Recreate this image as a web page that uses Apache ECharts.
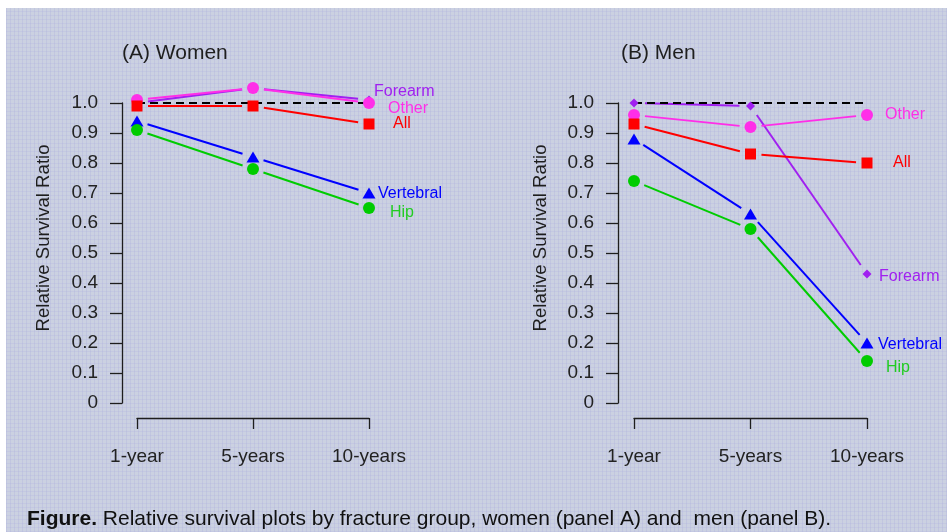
<!DOCTYPE html>
<html>
<head>
<meta charset="utf-8">
<script src="https://cdn.jsdelivr.net/npm/echarts@6/dist/echarts.min.js"></script>
<style>
  html, body { margin: 0; padding: 0; background: #ffffff; }
  #wrap { position: relative; width: 947px; height: 532px; overflow: hidden; }
  #paper {
    position: absolute; left: 6px; top: 8px; right: 0; bottom: 0;
    background-color: #cbd1e1;
    background-image:
      repeating-linear-gradient(90deg, rgba(165,165,220,0.25) 0px, rgba(165,165,220,0.25) 1px, transparent 1px, transparent 4px),
      repeating-linear-gradient(0deg, rgba(170,170,225,0.22) 0px, rgba(170,170,225,0.22) 1px, transparent 1px, transparent 4px);
  }
  #chart { position: absolute; left: 0; top: 0; width: 947px; height: 532px; }
</style>
</head>
<body>
<div id="wrap">
  <div id="paper"></div>
  <div id="chart"></div>
</div>
<script>
// Follow-up periods after fracture
const periods = ['1-year', '5-years', '10-years'];
const yTickLabels = ['0', '0.1', '0.2', '0.3', '0.4', '0.5', '0.6', '0.7', '0.8', '0.9', '1.0'];

// Relative survival ratio, women
const womenForearm   = [1.00, 1.05, 1.01];
const womenOther     = [1.01, 1.05, 1.00];
const womenAll       = [0.99, 0.99, 0.93];
const womenVertebral = [0.94, 0.82, 0.70];
const womenHip       = [0.91, 0.78, 0.65];

// Relative survival ratio, men
const menForearm   = [1.00, 0.99, 0.43];
const menOther     = [0.96, 0.92, 0.96];
const menAll       = [0.93, 0.83, 0.80];
const menVertebral = [0.88, 0.63, 0.20];
const menHip       = [0.74, 0.58, 0.14];

// Expected survival (ratio of 1)
const reference = [1, 1, 1];

const FONT = '"Liberation Sans", Arial, sans-serif';
const INK = '#1e1e1e';

const styles = {
  Forearm:   { color: '#a020f0', text: '#a020f0', symbol: 'diamond',  size: 9 },
  Other:     { color: '#ff2ee8', text: '#ff2ee8', symbol: 'circle',   size: 12 },
  All:       { color: '#ff0000', text: '#ff0000', symbol: 'rect',     size: 11 },
  Vertebral: { color: '#0000ff', text: '#0000ff', symbol: 'triangle', size: [13, 11] },
  Hip:       { color: '#00cc00', text: '#22cc22', symbol: 'circle',   size: 12 }
};

// Line segments between points, stopping short of each marker
function connector(name, vals, gridIndex, color) {
  const gap = 11;
  return {
    type: 'custom',
    name: name,
    xAxisIndex: gridIndex,
    yAxisIndex: gridIndex,
    z: 2,
    silent: true,
    clip: false,
    data: vals.map((v, i) => [i, v]),
    renderItem: function (params, api) {
      const i = params.dataIndex;
      if (i >= vals.length - 1) return null;
      const a = api.coord([i, vals[i]]);
      const b = api.coord([i + 1, vals[i + 1]]);
      const dx = b[0] - a[0], dy = b[1] - a[1];
      const len = Math.hypot(dx, dy);
      if (len <= 2 * gap) return null;
      const ux = dx / len, uy = dy / len;
      return {
        type: 'line',
        shape: { x1: a[0] + ux * gap, y1: a[1] + uy * gap, x2: b[0] - ux * gap, y2: b[1] - uy * gap },
        style: { stroke: color, lineWidth: 2 }
      };
    }
  };
}

// Markers, with the group name written beside the last one
function markers(name, vals, gridIndex, labelOffset, z) {
  const s = styles[name];
  const last = vals.length - 1;
  return {
    type: 'scatter',
    name: name,
    xAxisIndex: gridIndex,
    yAxisIndex: gridIndex,
    z: z,
    clip: false,
    symbol: s.symbol,
    symbolSize: s.size,
    itemStyle: { color: s.color, opacity: 1 },
    data: vals.map((v, i) => i === last ? {
      value: v,
      label: {
        show: true, position: 'inside', align: 'left', verticalAlign: 'middle',
        offset: labelOffset, formatter: '{a}', color: s.text,
        fontFamily: FONT, fontSize: 16
      }
    } : v)
  };
}

function referenceLine(gridIndex) {
  return {
    type: 'line',
    xAxisIndex: gridIndex,
    yAxisIndex: gridIndex,
    data: reference,
    symbol: 'none',
    clip: false,
    silent: true,
    z: 3,
    lineStyle: { color: '#000000', width: 2, type: [8, 5] }
  };
}

function xAxis(gridIndex) {
  return {
    type: 'category', gridIndex: gridIndex, data: periods, boundaryGap: false,
    offset: 15,
    axisLine: { onZero: false, lineStyle: { color: INK, width: 1.3 } },
    axisTick: { length: 11, lineStyle: { color: INK, width: 1.3 } },
    axisLabel: { color: '#222', fontFamily: FONT, fontSize: 19, margin: 29 },
    splitLine: { show: false }
  };
}

function yAxis(gridIndex, offset) {
  return {
    type: 'value', gridIndex: gridIndex, min: 0, max: 1, interval: 0.1,
    offset: offset,
    axisLine: { show: true, onZero: false, lineStyle: { color: INK, width: 1.3 } },
    axisTick: { show: true, length: 12, lineStyle: { color: INK, width: 1.3 } },
    axisLabel: {
      color: '#222', fontFamily: FONT, fontSize: 19, margin: 24,
      formatter: (v, idx) => yTickLabels[idx]
    },
    splitLine: { show: false }
  };
}

const chart = echarts.init(document.getElementById('chart'), null, { renderer: 'canvas' });

chart.setOption({
  animation: false,
  backgroundColor: 'transparent',
  grid: [
    { left: 137, right: 578, top: 103, bottom: 129 },
    { left: 634, right: 80, top: 103, bottom: 129 }
  ],
  xAxis: [xAxis(0), xAxis(1)],
  yAxis: [yAxis(0, 15), yAxis(1, 16)],
  graphic: [
    { type: 'text', left: 122, top: 43, style: { text: '(A) Women', font: '21px ' + FONT, fill: INK } },
    { type: 'text', left: 621, top: 43, style: { text: '(B) Men', font: '21px ' + FONT, fill: INK } },
    { type: 'text', x: 44, y: 238, rotation: Math.PI / 2,
      style: { text: 'Relative Survival Ratio', font: '18.6px ' + FONT, fill: INK, align: 'center', verticalAlign: 'middle' } },
    { type: 'text', x: 541, y: 238, rotation: Math.PI / 2,
      style: { text: 'Relative Survival Ratio', font: '18.6px ' + FONT, fill: INK, align: 'center', verticalAlign: 'middle' } },
    { type: 'text', x: 27, y: 519,
      style: {
        text: '{b|Figure.} Relative survival plots by fracture group, women (panel A) and  men (panel B).',
        font: '21px ' + FONT, fill: '#111', verticalAlign: 'middle',
        rich: { b: { font: 'bold 21px ' + FONT, fill: '#111' } }
      } }
  ],
  series: [
    // Women
    referenceLine(0),
    connector('Forearm', womenForearm, 0, styles.Forearm.color),
    connector('Other', womenOther, 0, styles.Other.color),
    connector('All', womenAll, 0, styles.All.color),
    connector('Vertebral', womenVertebral, 0, styles.Vertebral.color),
    connector('Hip', womenHip, 0, styles.Hip.color),
    markers('Forearm', womenForearm, 0, [5, -8], 4),
    markers('Other', womenOther, 0, [19, 6], 5),
    markers('All', womenAll, 0, [24, 0], 5),
    markers('Vertebral', womenVertebral, 0, [9, 1], 5),
    markers('Hip', womenHip, 0, [21, 5], 5),
    // Men
    referenceLine(1),
    connector('Forearm', menForearm, 1, styles.Forearm.color),
    connector('Other', menOther, 1, styles.Other.color),
    connector('All', menAll, 1, styles.All.color),
    connector('Vertebral', menVertebral, 1, styles.Vertebral.color),
    connector('Hip', menHip, 1, styles.Hip.color),
    markers('Forearm', menForearm, 1, [12, 3], 5),
    markers('Other', menOther, 1, [18, 0], 5),
    markers('All', menAll, 1, [26, 0], 5),
    markers('Vertebral', menVertebral, 1, [11, 2], 5),
    markers('Hip', menHip, 1, [19, 7], 5)
  ]
});
</script>
</body>
</html>
